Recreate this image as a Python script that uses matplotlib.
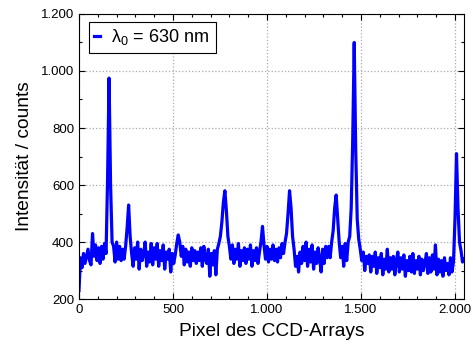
import matplotlib
matplotlib.use('Agg')
import matplotlib.pyplot as plt
from matplotlib.ticker import MultipleLocator, FuncFormatter
import numpy as np

# Pixel positions (every 8th pixel of the CCD array)
pixels = np.arange(0, 2049, 8)

# Intensity, one row per 128 pixels
counts_0 = [230, 345, 310, 360, 325, 350, 375, 335, 320, 430, 350, 390, 335, 380, 325, 385,
            340, 395, 360, 620, 975, 600, 400, 385, 330, 400, 340, 385, 335, 375, 340, 385,
            450, 530, 420, 360, 315, 380, 340, 400, 305, 375, 335, 360, 400, 315, 365, 330,
            395, 320, 380, 340, 395, 315, 370, 335, 390, 305, 365, 340, 375, 295, 360, 325]
counts_1 = [355, 395, 425, 400, 350, 385, 320, 375, 330, 365, 315, 380, 335, 370, 325, 365,
            335, 380, 315, 385, 340, 325, 375, 280, 360, 320, 370, 285, 375, 395, 420, 470,
            540, 580, 510, 420, 385, 340, 390, 325, 375, 340, 395, 315, 370, 335, 380, 325,
            375, 340, 390, 315, 370, 335, 380, 325, 365, 400, 455, 390, 340, 385, 330, 375]
counts_2 = [340, 390, 335, 375, 330, 380, 345, 395, 360, 400, 430, 500, 580, 520, 420, 375,
            315, 350, 295, 365, 325, 385, 335, 400, 315, 375, 330, 390, 305, 365, 325, 380,
            340, 295, 375, 325, 385, 345, 385, 345, 400, 440, 520, 565, 480, 400, 345, 385,
            315, 395, 335, 400, 420, 520, 760, 1100, 720, 480, 410, 375, 335, 365, 300, 350]
counts_3 = [325, 355, 295, 350, 315, 365, 290, 345, 310, 360, 285, 340, 305, 375, 295, 345,
            305, 350, 285, 335, 365, 295, 345, 305, 355, 280, 335, 300, 350, 295, 360, 290,
            335, 305, 350, 285, 340, 300, 325, 360, 290, 345, 295, 355, 305, 390, 285, 340,
            295, 335, 280, 345, 300, 325, 285, 345, 295, 330, 480, 710, 520, 400, 370, 330,
            340]

label = r'$\lambda_0$ = 630 nm '


def german(v, pos):
    return f'{v:,.0f}'.replace(',', '.')


def main():
    plt.rcParams['font.family'] = ['Liberation Sans', 'DejaVu Sans']
    plt.rcParams['mathtext.fontset'] = 'custom'
    plt.rcParams['mathtext.rm'] = 'Liberation Sans'
    plt.rcParams['mathtext.it'] = 'Liberation Sans'

    counts = counts_0 + counts_1 + counts_2 + counts_3

    fig = plt.figure(figsize=(4.73, 3.49), dpi=100)
    ax = fig.add_axes([0.167, 0.143, 0.814, 0.817])

    ax.plot(pixels, counts, color='#0000ff', lw=2.3, label=label)

    ax.set_xlim(0, 2048)
    ax.set_ylim(200, 1200)
    ax.xaxis.set_major_locator(MultipleLocator(500))
    ax.xaxis.set_minor_locator(MultipleLocator(100))
    ax.yaxis.set_major_locator(MultipleLocator(200))
    ax.yaxis.set_minor_locator(MultipleLocator(100))
    ax.xaxis.set_major_formatter(FuncFormatter(german))
    ax.yaxis.set_major_formatter(FuncFormatter(german))

    ax.tick_params(which='both', direction='in', top=True, right=True,
                   labelsize=9.5, colors='black')
    ax.tick_params(which='major', length=4, width=0.8)
    ax.tick_params(which='minor', length=2.5, width=0.8)
    ax.grid(True, which='major', color='#aaaaaa', ls=':', lw=0.9)

    ax.set_xlabel('Pixel des CCD-Arrays', fontsize=13.8, labelpad=5)
    ax.set_ylabel('Intensität / counts', fontsize=13.8, labelpad=6)

    # Legend box: short handle, tight vertical padding
    leg = ax.legend(loc='upper left', fontsize=13, handlelength=0.35,
                    handletextpad=0.6, fancybox=False, framealpha=1,
                    edgecolor='black', borderpad=0.3, borderaxespad=0,
                    bbox_to_anchor=(0.025, 0.972))
    leg.get_frame().set_linewidth(0.8)

    fig.savefig('out.png', dpi=100)


if __name__ == '__main__':
    main()
